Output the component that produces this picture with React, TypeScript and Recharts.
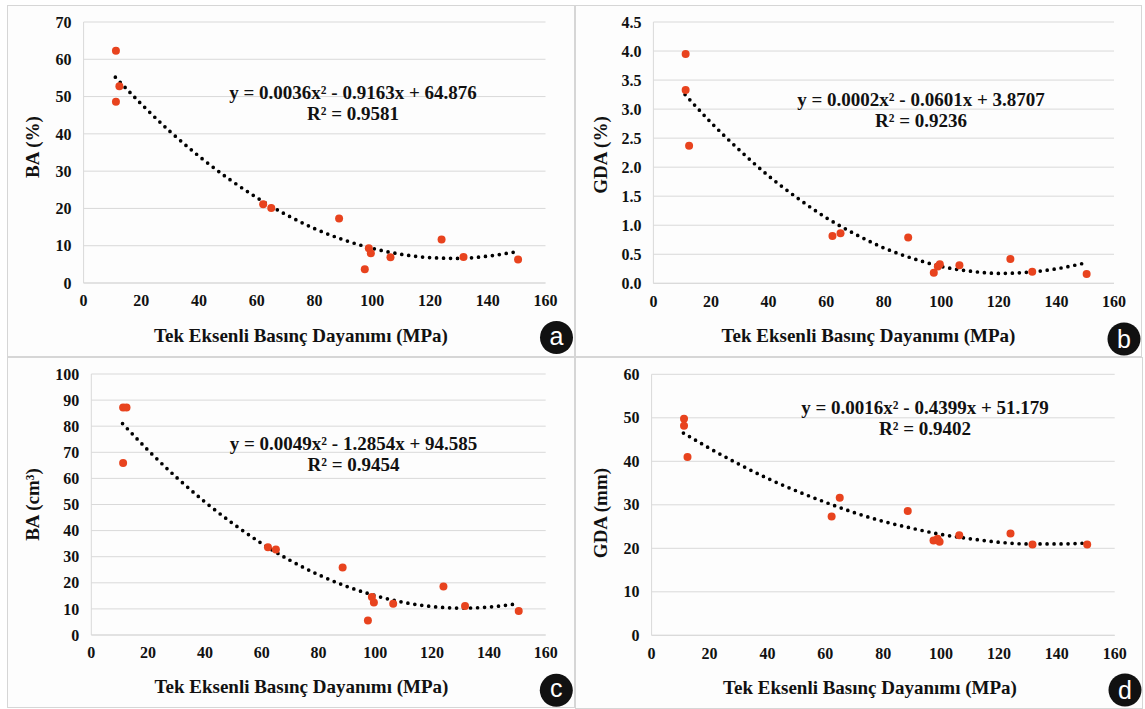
import React from "react";
import {
  ComposedChart,
  Scatter,
  Line,
  XAxis,
  YAxis,
  CartesianGrid,
} from "recharts";

const W = 1145;
const H = 709;
const FONT = "'Liberation Serif', 'Times New Roman', serif";
const RED = "#E8431E";
const GRID = "#d9d9d9";

// Tek eksenli basınç dayanımı (MPa) — shared sample x values
const ucs = [11.2, 11.2, 12.4, 62.2, 65.0, 88.5, 97.4, 98.8, 99.5, 106.3, 124.0, 131.6, 150.5];

// measured values per panel
const baPct = [62.3, 48.6, 52.8, 21.1, 20.1, 17.3, 3.7, 9.3, 8.0, 6.9, 11.7, 7.0, 6.3];
const gdaPct = [3.95, 3.33, 2.37, 0.815, 0.86, 0.79, 0.18, 0.29, 0.33, 0.31, 0.42, 0.2, 0.16];
const baCm3 = [87.2, 65.9, 87.2, 33.6, 32.8, 25.9, 5.6, 14.6, 12.5, 12.0, 18.6, 11.1, 9.2];
const gdaMm = [49.8, 48.2, 41.0, 27.3, 31.6, 28.6, 21.8, 22.2, 21.5, 23.0, 23.4, 20.9, 20.9];

// trendline samples
const trendX = [11, 20, 30, 40, 50, 60, 70, 80, 90, 100, 110, 120, 130, 140, 150];
const trendA = [55.2, 48.0, 40.6, 34.0, 28.1, 22.9, 18.4, 14.6, 11.6, 9.3, 7.7, 6.8, 6.6, 7.2, 8.4];
const trendB = [3.25, 2.77, 2.29, 1.85, 1.47, 1.13, 0.85, 0.61, 0.43, 0.29, 0.21, 0.17, 0.19, 0.25, 0.35];
const trendC = [81.0, 70.8, 60.4, 51.0, 42.6, 35.1, 28.6, 23.1, 18.6, 15.1, 12.5, 10.9, 10.3, 10.7, 12.0];
const trendD = [46.5, 43.0, 39.4, 36.1, 33.2, 30.6, 28.2, 26.2, 24.6, 23.2, 22.2, 21.4, 21.0, 21.0, 21.2];

// tick labels
const xTicks = [0, 20, 40, 60, 80, 100, 120, 140, 160];
const yTicksA = [0, 10, 20, 30, 40, 50, 60, 70];
const yTicksB = [0, 0.5, 1.0, 1.5, 2.0, 2.5, 3.0, 3.5, 4.0, 4.5];
const yTicksC = [0, 10, 20, 30, 40, 50, 60, 70, 80, 90, 100];
const yTicksD = [0, 10, 20, 30, 40, 50, 60];

const xTitle = "Tek Eksenli Basınç Dayanımı (MPa)";
const yTitles = ["BA (%)", "GDA (%)", "BA (cm³)", "GDA (mm)"];
const eqLines = [
  ["y = 0.0036x² - 0.9163x + 64.876", "R² = 0.9581"],
  ["y = 0.0002x² - 0.0601x + 3.8707", "R² = 0.9236"],
  ["y = 0.0049x² - 1.2854x + 94.585", "R² = 0.9454"],
  ["y = 0.0016x² - 0.4399x + 51.179", "R² = 0.9402"],
];
const letters = ["a", "b", "c", "d"];

const zip = (xs: number[], ys: number[]) => xs.map((x, i) => ({ x, y: ys[i] }));

type Cfg = {
  pts: { x: number; y: number }[];
  trend: { x: number; y: number }[];
  yTicks: number[];
  fmt: (v: number) => string;
  margin: { top: number; right: number; bottom: number; left: number };
  box: { left: number; top: number; width: number; height: number };
  eq: { cx: number; y1: number; y2: number };
  xT: { cx: number; y: number };
  yT: { x: number; cy: number };
  circ: { cx: number; cy: number };
};

const intFmt = (v: number) => String(v);
const decFmt = (v: number) => v.toFixed(1);

const panels: Cfg[] = [
  {
    pts: zip(ucs, baPct),
    trend: zip(trendX, trendA),
    yTicks: yTicksA,
    fmt: intFmt,
    margin: { top: 22, right: 1145 - 545.5, bottom: 709 - 283 - 30, left: 83.6 - 60 },
    box: { left: 7, top: 5, width: 568, height: 352 },
    eq: { cx: 353, y1: 98.5, y2: 119.5 },
    xT: { cx: 301, y: 341.5 },
    yT: { x: 38.5, cy: 147 },
    circ: { cx: 556.5, cy: 337.5 },
  },
  {
    pts: zip(ucs, gdaPct),
    trend: zip(trendX, trendB),
    yTicks: yTicksB,
    fmt: decFmt,
    margin: { top: 22, right: 1145 - 1114, bottom: 709 - 283.3 - 30, left: 653.4 - 60 },
    box: { left: 575, top: 5, width: 567, height: 352 },
    eq: { cx: 921, y1: 106, y2: 127.3 },
    xT: { cx: 868.5, y: 341.5 },
    yT: { x: 606.8, cy: 155 },
    circ: { cx: 1124, cy: 339 },
  },
  {
    pts: zip(ucs, baCm3),
    trend: zip(trendX, trendC),
    yTicks: yTicksC,
    fmt: intFmt,
    margin: { top: 374, right: 1145 - 545.7, bottom: 709 - 635 - 30, left: 91.3 - 60 },
    box: { left: 7, top: 357, width: 568, height: 351 },
    eq: { cx: 353.5, y1: 450.3, y2: 471.3 },
    xT: { cx: 301.5, y: 692.7 },
    yT: { x: 38.5, cy: 504.5 },
    circ: { cx: 556.3, cy: 690.3 },
  },
  {
    pts: zip(ucs, gdaMm),
    trend: zip(trendX, trendD),
    yTicks: yTicksD,
    fmt: intFmt,
    margin: { top: 374.3, right: 1145 - 1114.7, bottom: 709 - 635.3 - 30, left: 651.6 - 60 },
    box: { left: 575, top: 357, width: 568, height: 352 },
    eq: { cx: 925, y1: 414.3, y2: 435.3 },
    xT: { cx: 870, y: 693.5 },
    yT: { x: 606.8, cy: 513 },
    circ: { cx: 1125, cy: 690 },
  },
];

const tickStyle = { fontFamily: FONT, fontWeight: 700, fontSize: 16, fill: "#111" };

const Dot = (props: any) => {
  const { cx, cy } = props;
  if (cx == null || cy == null) return null;
  return <circle cx={cx} cy={cy} r={4} fill={RED} />;
};

function PanelChart({ cfg }: { cfg: Cfg }) {
  const yMax = cfg.yTicks[cfg.yTicks.length - 1];
  return (
    <div style={{ position: "absolute", left: 0, top: 0 }}>
      <ComposedChart width={W} height={H} margin={cfg.margin}>
        <CartesianGrid vertical={false} stroke={GRID} strokeWidth={1} />
        <XAxis
          type="number"
          dataKey="x"
          domain={[0, 160]}
          ticks={xTicks}
          interval={0}
          allowDataOverflow
          height={30}
          tick={tickStyle}
          tickLine={false}
          tickSize={0}
          tickMargin={12}
          axisLine={{ stroke: GRID, strokeWidth: 1 }}
        />
        <YAxis
          type="number"
          domain={[0, yMax]}
          ticks={cfg.yTicks}
          interval={0}
          allowDataOverflow
          width={60}
          tick={tickStyle}
          tickFormatter={cfg.fmt}
          tickLine={false}
          tickSize={0}
          tickMargin={12}
          axisLine={{ stroke: GRID, strokeWidth: 1 }}
        />
        <Scatter
          data={cfg.pts}
          dataKey="y"
          shape={Dot}
          isAnimationActive={false}
        />
        <Line
          data={cfg.trend}
          dataKey="y"
          type="monotone"
          stroke="#000"
          strokeWidth={3.7}
          strokeDasharray="0 7"
          strokeLinecap="round"
          dot={false}
          activeDot={false}
          isAnimationActive={false}
        />
      </ComposedChart>
    </div>
  );
}

export default function App() {
  return (
    <div
      style={{
        position: "fixed",
        left: 0,
        top: 0,
        width: W,
        height: H,
        background: "#fff",
        overflow: "hidden",
      }}
    >
      {panels.map((p, i) => (
        <div
          key={"box" + i}
          style={{
            position: "absolute",
            left: p.box.left,
            top: p.box.top,
            width: p.box.width,
            height: p.box.height,
            boxSizing: "border-box",
            border: "1px solid #d6d6d6",
            background: "#fdfdfd",
          }}
        />
      ))}
      {panels.map((p, i) => (
        <PanelChart key={"chart" + i} cfg={p} />
      ))}
      <svg
        width={W}
        height={H}
        style={{ position: "absolute", left: 0, top: 0, pointerEvents: "none" }}
      >
        {panels.map((p, i) => (
          <g key={"txt" + i} fontFamily={FONT} fontWeight={700} fill="#111">
            <text x={p.eq.cx} y={p.eq.y1} textAnchor="middle" fontSize={19}>
              {eqLines[i][0]}
            </text>
            <text x={p.eq.cx} y={p.eq.y2} textAnchor="middle" fontSize={19}>
              {eqLines[i][1]}
            </text>
            <text x={p.xT.cx} y={p.xT.y} textAnchor="middle" fontSize={19}>
              {xTitle}
            </text>
            <text
              x={p.yT.x}
              y={p.yT.cy}
              textAnchor="middle"
              fontSize={19}
              transform={`rotate(-90 ${p.yT.x} ${p.yT.cy})`}
            >
              {yTitles[i]}
            </text>
            <circle cx={p.circ.cx} cy={p.circ.cy} r={16.5} fill="#111" />
            <text
              x={p.circ.cx}
              y={p.circ.cy + (letters[i] === "b" || letters[i] === "d" ? 9 : 7)}
              textAnchor="middle"
              fontSize={25}
              fontFamily="'Liberation Sans', Arial, sans-serif"
              fontWeight={400}
              fill="#fff"
            >
              {letters[i]}
            </text>
          </g>
        ))}
      </svg>
    </div>
  );
}
